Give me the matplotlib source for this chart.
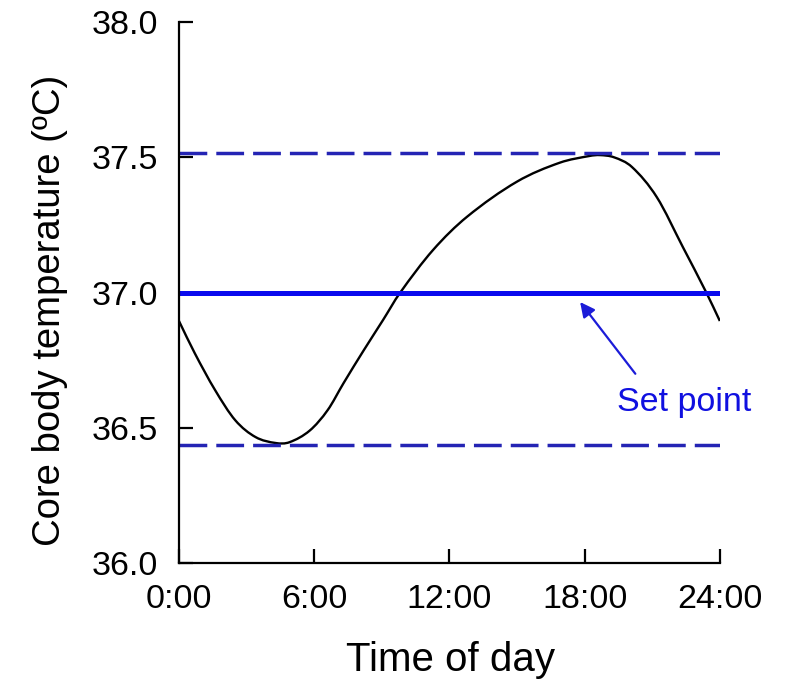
import matplotlib
matplotlib.use('Agg')
from matplotlib import pyplot as plt
from matplotlib.path import Path
from matplotlib.patches import PathPatch

plt.rcParams['font.family'] = ['Liberation Sans', 'DejaVu Sans']

# core body temperature over the day (hours, degrees C)
hours = [0, 0.7, 1.6, 2.5, 3.4, 4.3, 4.9, 5.8, 6.6, 7.3, 8.2, 9.05, 9.8,
         11.27, 12.78, 15.0, 16.9, 18.23, 18.68, 19.3, 20.1, 21.2, 22.36,
         23.4, 24]
temp = [36.895, 36.776, 36.64, 36.528, 36.466, 36.444, 36.447, 36.49,
        36.566, 36.665, 36.787, 36.898, 36.998, 37.157, 37.28, 37.41,
        37.48, 37.505, 37.508, 37.50, 37.464, 37.353, 37.168, 37.0, 36.895]

set_point = 37.0
upper_band = 37.515
lower_band = 36.435

x_ticks = [0, 6, 12, 18, 24]
x_labels = ['0:00', '6:00', '12:00', '18:00', '24:00']
y_ticks = [36.0, 36.5, 37.0, 37.5, 38.0]


def smooth_path(xs, ys):
    # cubic Hermite pieces (as Bezier curves) through every point
    n = len(xs)
    slopes = []
    for i in range(n):
        a = max(i - 1, 0)
        b = min(i + 1, n - 1)
        slopes.append((ys[b] - ys[a]) / (xs[b] - xs[a]))
    verts = [(xs[0], ys[0])]
    codes = [Path.MOVETO]
    for i in range(n - 1):
        dx = (xs[i + 1] - xs[i]) / 3
        verts += [(xs[i] + dx, ys[i] + slopes[i] * dx),
                  (xs[i + 1] - dx, ys[i + 1] - slopes[i + 1] * dx),
                  (xs[i + 1], ys[i + 1])]
        codes += [Path.CURVE4] * 3
    return Path(verts, codes)


fig = plt.figure(figsize=(7.85, 6.86), dpi=100)
ax = fig.add_axes([0.228, 0.179, 0.689, 0.789])

band_color = '#2424b4'
ax.plot([0, 24], [upper_band, upper_band], color=band_color, lw=2.5,
        dashes=(8, 2.6), solid_capstyle='butt')
ax.plot([0, 24], [lower_band, lower_band], color=band_color, lw=2.5,
        dashes=(8, 2.6), solid_capstyle='butt')
ax.plot([0, 24], [set_point, set_point], color='#0a0aee', lw=3.6)
ax.add_patch(PathPatch(smooth_path(hours, temp), facecolor='none',
                       edgecolor='black', lw=1.7))

ax.annotate('', xy=(17.8, 36.965), xytext=(20.25, 36.70),
            arrowprops=dict(arrowstyle='-|>', color='#1c1cd8', lw=1.6,
                            mutation_scale=22, shrinkA=0, shrinkB=0))
ax.text(22.4, 36.595, 'Set point', color='#1010e0', fontsize=24.5,
        ha='center', va='center')

ax.set_xlim(0, 24)
ax.set_ylim(36.0, 38.0)
ax.set_xticks(x_ticks)
ax.set_xticklabels(x_labels)
ax.set_yticks(y_ticks)
ax.set_yticklabels(['%.1f' % v for v in y_ticks])

ax.spines['right'].set_visible(False)
ax.spines['top'].set_visible(False)
ax.spines['left'].set_linewidth(1.6)
ax.spines['bottom'].set_linewidth(1.6)
ax.tick_params(direction='in', length=10, width=1.6, labelsize=24.5)
ax.tick_params(axis='y', pad=15)
ax.tick_params(axis='x', pad=15)

fig.text(50 / 785, 1 - 310 / 686, 'Core body temperature (\u00baC)',
         rotation=90, ha='center', va='center', fontsize=27.5)
fig.text(450 / 785, 1 - 660 / 686, 'Time of day',
         ha='center', va='center', fontsize=29)

fig.savefig('out.png', dpi=100)
